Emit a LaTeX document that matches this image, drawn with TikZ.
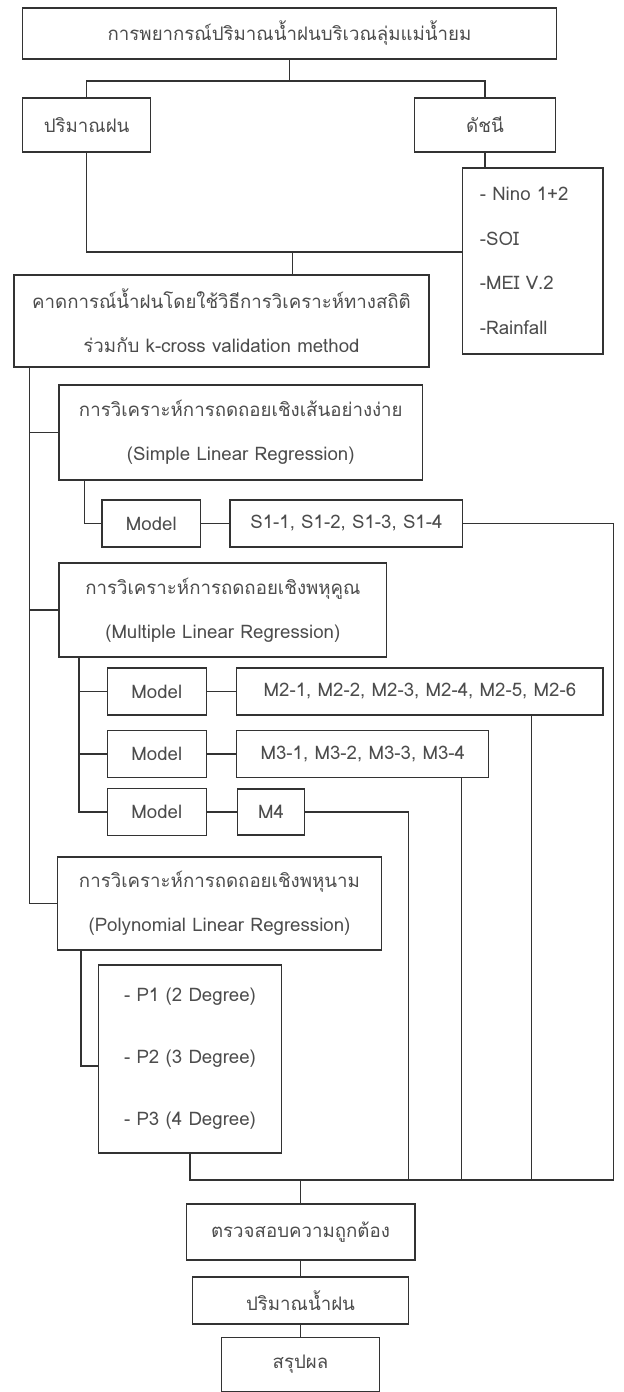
\documentclass[tikz,border=0pt]{standalone}
\usepackage{fontspec}
\newfontfamily\thaifont[Script=Thai]{Loma}
\usepackage{tikz}
\usetikzlibrary{shapes,arrows}

\begin{document}
\begin{tikzpicture}[x=0.75pt, y=-0.75pt, font=\thaifont\fontsize{14}{33}\selectfont]
	% Define the style for the boxes and the lines
	\tikzstyle{box}=[rectangle, draw=black!80, line width=0.9pt, text=black!70, inner sep=0pt, align=center]
	\tikzstyle{model}=[box, minimum width=74pt, minimum height=35.25pt]
	\tikzstyle{link}=[draw=black!80, line width=0.9pt]

	\useasboundingbox (0,0) rectangle (624,1392);

	% Define nodes
	\node (title) [box, minimum width=400.2pt, minimum height=38.25pt] at (289.5,33.5) {การพยากรณ์ปริมาณน้ำฝนบริเวณลุ่มแม่น้ำยม};
	\node (rain) [box, minimum width=95.8pt, minimum height=40.5pt] at (86.6,125) {ปริมาณฝน};
	\node (index) [box, minimum width=105.7pt, minimum height=40.5pt] at (485,125) {ดัชนี};
	\node (indexlist) [box, minimum width=105.1pt, minimum height=139.5pt, text width=79.6pt, align=left,
		font=\thaifont\fontsize{14}{33.5}\selectfont] at (532.9,261) {- Nino 1+2\\-SOI\\-MEI V.2\\-Rainfall};
	\node (forecast) [box, minimum width=311.3pt, minimum height=69pt] at (221.5,321)
		{คาดการณ์น้ำฝนโดยใช้วิธีการวิเคราะห์ทางสถิติ\\ร่วมกับ k-cross validation method};
	\node (simple) [box, minimum width=272.8pt, minimum height=71.25pt] at (240.8,432.5)
		{การวิเคราะห์การถดถอยเชิงเส้นอย่างง่าย\\(Simple Linear Regression)};
	\node (modelS) [model] at (151.3,523.5) {Model};
	\node (s1) [box, minimum width=174.6pt, minimum height=35.25pt] at (346.4,523.5) {S1-1, S1-2, S1-3, S1-4};
	\node (multi) [box, minimum width=245.9pt, minimum height=70.5pt] at (222.9,610)
		{การวิเคราะห์การถดถอยเชิงพหุคูณ\\(Multiple Linear Regression)};
	\node (modelM2) [model] at (156.8,691.5) {Model};
	\node (m2) [box, minimum width=274.6pt, minimum height=35.25pt] at (419.9,691.5) {M2-1, M2-2, M2-3, M2-4, M2-5, M2-6};
	\node (modelM3) [model] at (156.8,754) {Model};
	\node (m3) [box, minimum width=188.9pt, minimum height=35.25pt] at (362.8,754) {M3-1, M3-2, M3-3, M3-4};
	\node (modelM4) [model] at (156.8,812) {Model};
	\node (m4) [box, minimum width=50.1pt, minimum height=34.5pt] at (271,812) {M4};
	\node (poly) [box, minimum width=242.6pt, minimum height=69.75pt] at (219.5,903.5)
		{การวิเคราะห์การถดถอยเชิงพหุนาม\\(Polynomial Linear Regression)};
	\node (plist) [box, minimum width=137.6pt, minimum height=141pt,
		font=\thaifont\fontsize{14}{46.5}\selectfont] at (190,1059) {- P1 (2 Degree)\\- P2 (3 Degree)\\- P3 (4 Degree)};
	\node (check) [box, minimum width=171.6pt, minimum height=42pt] at (300.5,1232) {ตรวจสอบความถูกต้อง};
	\node (amount) [box, minimum width=161.8pt, minimum height=35.25pt] at (300.5,1300.5) {ปริมาณน้ำฝน};
	\node (concl) [box, minimum width=118.8pt, minimum height=40.5pt] at (300.5,1364.5) {สรุปผล};

	% Define the corners of the connectors
	\coordinate (split) at (289.5,81);
	\coordinate (merge) at (292.5,252);
	\coordinate (spine) at (29.8,367);
	\coordinate (busR) at (613.5,1180);
	\coordinate (drop2) at (531.2,1180);
	\coordinate (drop3) at (461.6,1180);
	\coordinate (drop4) at (408.7,1180);
	\coordinate (ssub) at ([xshift=19.4pt]simple.south west);
	\coordinate (msub) at ([xshift=15.5pt]multi.south west);
	\coordinate (psub) at ([xshift=17.9pt]poly.south west);

	% Define edges
	\draw[link] (title) -- (split);
	\draw[link] (rain) |- (split) -| (index);
	\draw[link] (index.south) -- (index.south |- indexlist.north);
	\draw[link] (rain) |- (merge) -- (merge -| indexlist.west);
	\draw[link] (merge) -- (merge |- forecast.north);
	\draw[link] (spine) |- (poly);
	\draw[link] (spine |- simple) -- (simple);
	\draw[link] (spine |- multi) -- (multi);
	\draw[link] (ssub) |- (modelS);
	\draw[link] (modelS) -- (s1);
	\draw[link] (s1) -| (busR);
	\draw[link] (msub) |- (modelM4);
	\draw[link] (msub |- modelM2) -- (modelM2);
	\draw[link] (msub |- modelM3) -- (modelM3);
	\draw[link] (modelM2) -- (m2);
	\draw[link] (modelM3) -- (m3);
	\draw[link] (modelM4) -- (m4);
	\draw[link] (m2.south -| drop2) -- (drop2);
	\draw[link] (m3.south -| drop3) -- (drop3);
	\draw[link] (m4) -| (drop4);
	\draw[link] (psub) |- ([yshift=-5.25pt]plist.west);
	\draw[link] (plist) -- (plist |- busR) -- (busR);
	\draw[link] (check |- busR) -- (check);
	\draw[link] (check) -- (amount);
	\draw[link] (amount) -- (concl);
\end{tikzpicture}
\end{document}
